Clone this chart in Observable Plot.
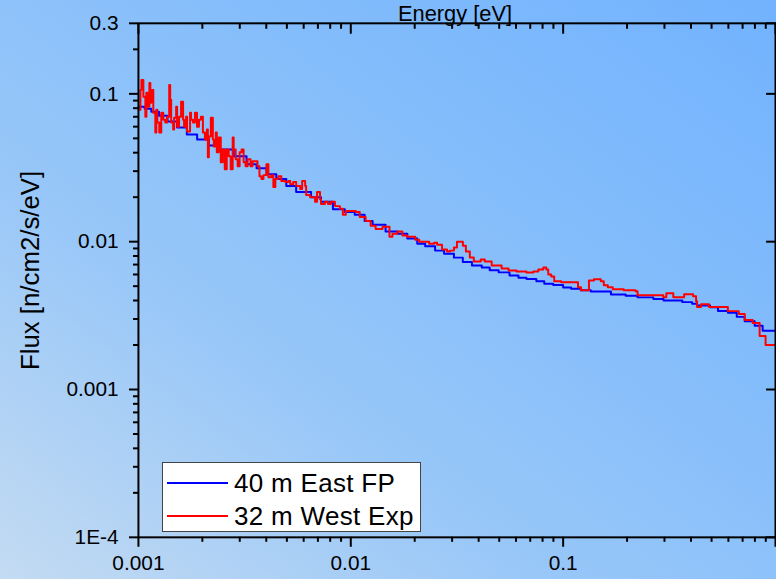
<!DOCTYPE html>
<html>
<head>
<meta charset="utf-8">
<script src="https://cdn.jsdelivr.net/npm/d3@7"></script>
<script src="https://cdn.jsdelivr.net/npm/@observablehq/plot@0.6"></script>
<style>
html, body { margin: 0; padding: 0; width: 776px; height: 579px; overflow: hidden; }
body { background: linear-gradient(to top right, #c4dbf2 0%, #98c7f8 35%, #84bdfb 65%, #72b2fe 100%); font-family: "Liberation Sans", Arial, sans-serif; }
#wrap { position: relative; width: 776px; height: 579px; overflow: hidden; }
#wrap svg { position: absolute; left: 0; top: 0; }
#legend { position: absolute; left: 162px; top: 462px; width: 257px; height: 68px; background: #fff; border: 1px solid #444; }
#legend .sw { position: absolute; left: 4px; width: 61px; height: 2px; }
#legend .lb { position: absolute; left: 71px; font-size: 26px; letter-spacing: 0.3px; line-height: 28px; color: #000; white-space: nowrap; }
</style>
</head>
<body>
<div id="wrap"><div id="legend"></div></div>
<script>
// ---- data ----
const seriesNames = ["40 m East FP", "32 m West Exp"];
const seriesColors = ["#0000ff", "#ff0000"];

const eastEnergy = [0.00100, 0.00107, 0.00115, 0.00125, 0.00137, 0.00152, 0.00169, 0.00189, 0.00215, 0.00239,
  0.00281, 0.00323, 0.00360, 0.00401, 0.00446, 0.00497, 0.00553, 0.00650, 0.00724, 0.00824,
  0.00937, 0.01044, 0.01162, 0.01267, 0.01458, 0.01659, 0.01846, 0.02056, 0.0224, 0.02495,
  0.0275, 0.0306, 0.0337, 0.0372, 0.0414, 0.0451, 0.0497, 0.0559, 0.0616, 0.0672,
  0.0748, 0.0815, 0.0898, 0.100, 0.109, 0.121, 0.135, 0.147, 0.168, 0.197,
  0.224, 0.266, 0.297, 0.327, 0.364, 0.405, 0.427, 0.492, 0.536, 0.597,
  0.657, 0.716, 0.798, 0.870, 1.0];
const eastFlux = [0.0818, 0.0793, 0.0757, 0.0712, 0.0649, 0.0591, 0.0531, 0.0491, 0.0448, 0.0421,
  0.0378, 0.0334, 0.0314, 0.0286, 0.0265, 0.0238, 0.0217, 0.0200, 0.0186, 0.0166,
  0.0159, 0.0152, 0.0138, 0.0130, 0.0117, 0.0113, 0.0105, 0.0097, 0.0093, 0.0087,
  0.0083, 0.0078, 0.0073, 0.0069, 0.0067, 0.0064, 0.0062, 0.0059, 0.0057, 0.0056,
  0.0054, 0.0052, 0.0051, 0.0049, 0.0048, 0.0047, 0.0046, 0.0046, 0.0044, 0.0043,
  0.0042, 0.0041, 0.0040, 0.0040, 0.0039, 0.0038, 0.0037, 0.0036, 0.0034, 0.0033,
  0.0031, 0.0029, 0.0027, 0.0025, 0.0025];

const westEnergy = [0.001000, 0.001022, 0.001033, 0.001055, 0.001078, 0.001090, 0.001102, 0.001126, 0.001138, 0.001150,
  0.001175, 0.001201, 0.001214, 0.001227, 0.001254, 0.001281, 0.001309, 0.001337, 0.001366, 0.001396,
  0.001411, 0.001426, 0.001457, 0.001473, 0.001505, 0.001521, 0.001554, 0.001588, 0.001623, 0.001640,
  0.001676, 0.001694, 0.001750, 0.001769, 0.001807, 0.001846, 0.001887, 0.001928, 0.001969, 0.002012,
  0.002056, 0.002101, 0.002123, 0.002146, 0.002193, 0.002241, 0.002265, 0.002314, 0.002339, 0.002390,
  0.002442, 0.002495, 0.002550, 0.002605, 0.002662, 0.002720, 0.002779, 0.002809, 0.002870, 0.002932,
  0.002996, 0.003061, 0.003128, 0.003196, 0.003265, 0.003372, 0.003446, 0.003559, 0.003636, 0.003715,
  0.003796, 0.003879, 0.004006, 0.004093, 0.004227, 0.004319, 0.004413, 0.004558, 0.004708, 0.004915,
  0.005076, 0.005187, 0.005357, 0.005533, 0.005776, 0.005902, 0.006096, 0.006162, 0.006433, 0.006788,
  0.006936, 0.007163, 0.007241, 0.007559, 0.007808, 0.008064, 0.008419, 0.008884, 0.009176, 0.009477,
  0.01000, 0.01055, 0.01102, 0.01175, 0.01240, 0.01309, 0.01411, 0.01457, 0.01521, 0.01571,
  0.01658, 0.01750, 0.01846, 0.02012, 0.02101, 0.02339, 0.02469, 0.02550, 0.02690, 0.02840,
  0.02932, 0.03061, 0.03162, 0.03265, 0.03372, 0.03483, 0.03636, 0.03796, 0.04006, 0.04093,
  0.04273, 0.04608, 0.05132, 0.05533, 0.06032, 0.06715, 0.07241, 0.07641, 0.08064, 0.08328,
  0.08510, 0.08788, 0.09079, 0.09787, 0.1175, 0.1214, 0.1323, 0.1396, 0.1505, 0.1554,
  0.1623, 0.1712, 0.1928, 0.2193, 0.2241, 0.2963, 0.3061, 0.3302, 0.3715, 0.4093,
  0.4227, 0.4273, 0.4462, 0.4863, 0.5967, 0.6715, 0.7163, 0.7808, 0.8419, 0.8980,
  1.0];
const westFlux = [0.0781, 0.1064, 0.1242, 0.0955, 0.0701, 0.1016, 0.0818, 0.1185, 0.0870, 0.1064,
  0.0746, 0.0547, 0.0781, 0.0639, 0.0547, 0.0746, 0.0669, 0.0639, 0.0701, 0.1149,
  0.0912, 0.0639, 0.0573, 0.0690, 0.0818, 0.0600, 0.0701, 0.0884, 0.0669, 0.0600,
  0.0701, 0.0556, 0.0746, 0.0669, 0.0639, 0.0746, 0.0600, 0.0669, 0.0701, 0.0547,
  0.0491, 0.0573, 0.0372, 0.0515, 0.0690, 0.0491, 0.0441, 0.0547, 0.0402, 0.0507,
  0.0344, 0.0421, 0.0309, 0.0421, 0.0378, 0.0309, 0.0507, 0.0421, 0.0361, 0.0324,
  0.0402, 0.0421, 0.0344, 0.0324, 0.0361, 0.0324, 0.0350, 0.0350, 0.0324, 0.0277,
  0.0265, 0.0282, 0.0334, 0.0273, 0.0282, 0.0234, 0.0265, 0.0277, 0.0257, 0.0253,
  0.0257, 0.0245, 0.0253, 0.0238, 0.0227, 0.0257, 0.0238, 0.0207, 0.0200, 0.0186,
  0.0217, 0.0194, 0.0180, 0.0186, 0.0180, 0.0186, 0.0174, 0.0167, 0.0152, 0.0161,
  0.0161, 0.0159, 0.0147, 0.0138, 0.0128, 0.0122, 0.0126, 0.0126, 0.0108, 0.0113,
  0.0117, 0.0110, 0.0108, 0.0103, 0.0100, 0.00970, 0.00985, 0.00955, 0.00884, 0.00857,
  0.00870, 0.00912, 0.0100, 0.0100, 0.00940, 0.00857, 0.00781, 0.00734, 0.00734, 0.00757,
  0.00734, 0.00690, 0.00659, 0.00639, 0.00629, 0.00619, 0.00629, 0.00649, 0.00669, 0.00649,
  0.00600, 0.00582, 0.00539, 0.00531, 0.00491, 0.00469, 0.00547, 0.00556, 0.00539, 0.00507,
  0.00491, 0.00476, 0.00469, 0.00462, 0.00434, 0.00421, 0.00448, 0.00421, 0.00441, 0.00427,
  0.00396, 0.00361, 0.00378, 0.00361, 0.00339, 0.00324, 0.00295, 0.00282, 0.00230, 0.00200,
  0.00200];

const xMajorTicks = [0.001, 0.01, 0.1, 1];
const xTickLabels = ["0.001", "0.01", "0.1", ""];
const xMinorTicks = [0.002, 0.003, 0.004, 0.005, 0.006, 0.007, 0.008, 0.009,
  0.02, 0.03, 0.04, 0.05, 0.06, 0.07, 0.08, 0.09,
  0.2, 0.3, 0.4, 0.5, 0.6, 0.7, 0.8, 0.9];
const yMajorTicks = [0.0001, 0.001, 0.01, 0.1, 0.3];
const yTickLabels = ["1E-4", "0.001", "0.01", "0.1", "0.3"];
const yMinorTicks = [0.0002, 0.0003, 0.0004, 0.0005, 0.0006, 0.0007, 0.0008, 0.0009,
  0.002, 0.003, 0.004, 0.005, 0.006, 0.007, 0.008, 0.009,
  0.02, 0.03, 0.04, 0.05, 0.06, 0.07, 0.08, 0.09, 0.2];
const xTitle = "Energy [eV]";
const yTitle = "Flux [n/cm2/s/eV]";

// ---- build ----
const east = eastEnergy.map((e, i) => ({energy: e, flux: eastFlux[i]}));
const west = westEnergy.map((e, i) => ({energy: e, flux: westFlux[i]}));
const fmtX = d => { const i = xMajorTicks.indexOf(d); return i >= 0 ? xTickLabels[i] : ""; };
const fmtY = d => { const i = yMajorTicks.indexOf(d); return i >= 0 ? yTickLabels[i] : ""; };
const blank = () => "";
const font = "Liberation Sans, Arial, sans-serif";

const chart = Plot.plot({
  width: 782,
  height: 579,
  marginLeft: 139,
  marginRight: 1,
  marginTop: 23,
  marginBottom: 38,
  style: {background: "transparent", fontFamily: font, color: "#000", overflow: "visible"},
  x: {type: "log", domain: [0.001, 1]},
  y: {type: "log", domain: [0.0001, 0.3]},
  marks: [
    Plot.line(east, {x: "energy", y: "flux", curve: "step-after", stroke: seriesColors[0], strokeWidth: 2, clip: true}),
    Plot.line(west, {x: "energy", y: "flux", curve: "step-after", stroke: seriesColors[1], strokeWidth: 2, clip: true}),
    Plot.frame({stroke: "#000", strokeWidth: 2}),
    // bottom axis
    Plot.axisX({anchor: "bottom", ticks: xMajorTicks, tickSize: 10, tickPadding: 8, tickFormat: fmtX, label: null, fontSize: 21, strokeWidth: 2}),
    Plot.axisX({anchor: "bottom", ticks: xMinorTicks, tickSize: 5, tickFormat: blank, label: null, strokeWidth: 2}),
    // top axis (inward ticks)
    Plot.axisX({anchor: "top", ticks: xMajorTicks, tickSize: 10, dy: 10, tickFormat: blank, label: null, strokeWidth: 2}),
    Plot.axisX({anchor: "top", ticks: xMinorTicks, tickSize: 5, dy: 5, tickFormat: blank, label: null, strokeWidth: 2}),
    // left axis
    Plot.axisY({anchor: "left", ticks: yMajorTicks, tickSize: 9, tickPadding: 11, tickFormat: fmtY, label: null, fontSize: 21, strokeWidth: 2}),
    Plot.axisY({anchor: "left", ticks: yMinorTicks, tickSize: 5, tickFormat: blank, label: null, strokeWidth: 2}),
    // right axis (inward ticks)
    Plot.axisY({anchor: "right", ticks: yMajorTicks, tickSize: 10, dx: -10, tickFormat: blank, label: null, strokeWidth: 2}),
    // titles
    Plot.text([xTitle], {frameAnchor: "top", dy: -18, dx: -2, fontSize: 22, fill: "#000"}),
    Plot.text([yTitle], {frameAnchor: "left", textAnchor: "middle", rotate: -90, dx: -109, dy: -10, fontSize: 26, fill: "#000"})
  ]
});
const wrap = document.getElementById("wrap");
wrap.insertBefore(chart, wrap.firstChild);

// legend
const legend = document.getElementById("legend");
const rowCenters = [20, 53];
seriesNames.forEach((name, i) => {
  const sw = document.createElement("div");
  sw.className = "sw";
  sw.style.top = (rowCenters[i] - 1) + "px";
  sw.style.background = seriesColors[i];
  legend.appendChild(sw);
  const lb = document.createElement("div");
  lb.className = "lb";
  lb.style.top = (rowCenters[i] - 14) + "px";
  lb.textContent = name;
  legend.appendChild(lb);
});
</script>
</body>
</html>
